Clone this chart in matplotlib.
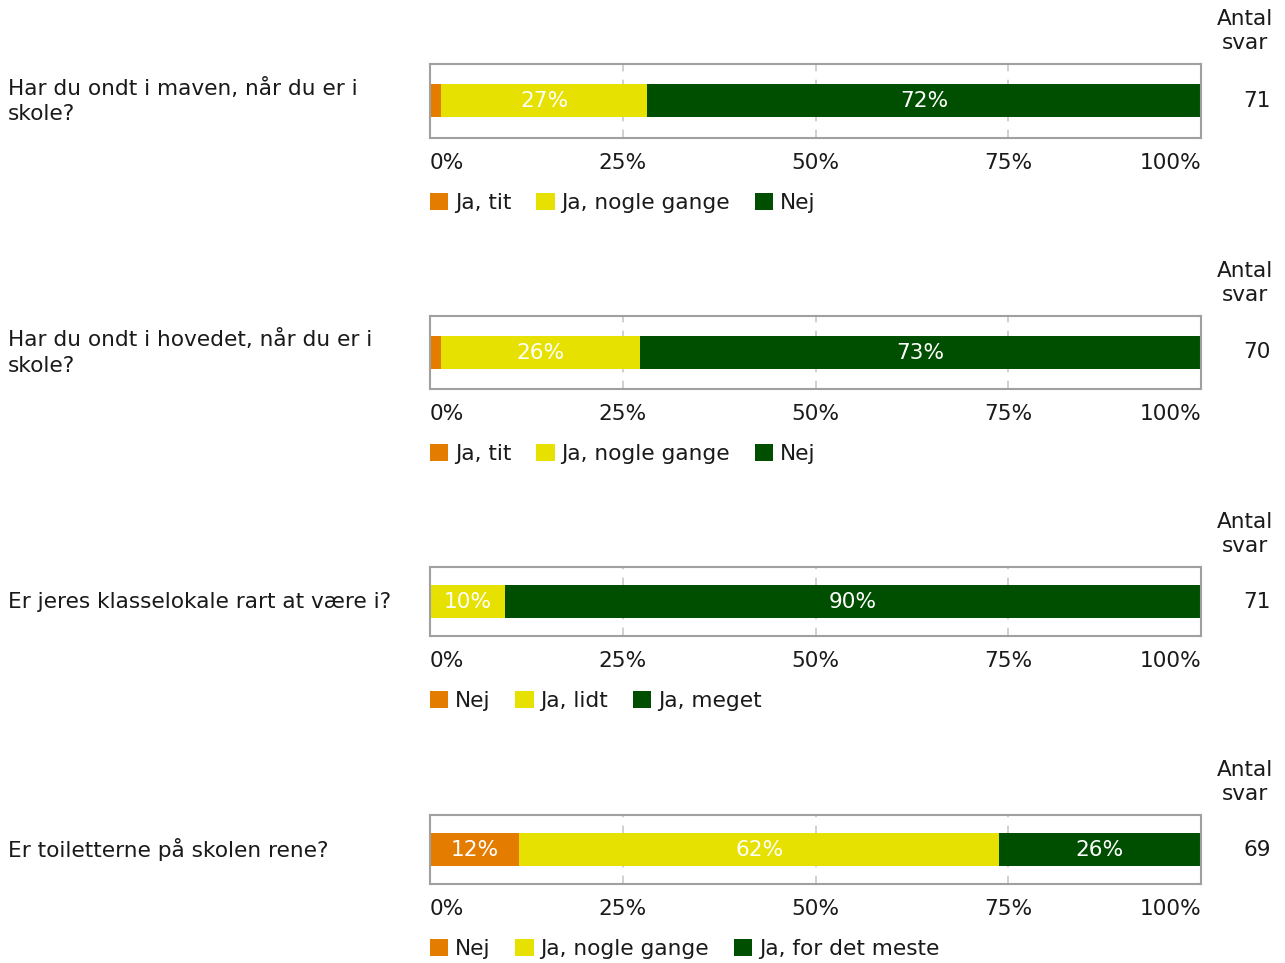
import numpy as np
import matplotlib.pyplot as plt
from matplotlib.patches import Patch

# data
questions = [
    "Har du ondt i maven, når du er i\nskole?",
    "Har du ondt i hovedet, når du er i\nskole?",
    "Er jeres klasselokale rart at være i?",
    "Er toiletterne på skolen rene?",
]
legend_labels = [
    ["Ja, tit", "Ja, nogle gange", "Nej"],
    ["Ja, tit", "Ja, nogle gange", "Nej"],
    ["Nej", "Ja, lidt", "Ja, meget"],
    ["Nej", "Ja, nogle gange", "Ja, for det meste"],
]
share_orange = [1.4, 1.4, 0.0, 11.6]
share_yellow = [26.8, 25.8, 9.7, 62.2]
share_green = [71.8, 72.8, 90.3, 26.2]
counts = [71, 70, 71, 69]
tick_vals = [0, 25, 50, 75, 100]
tick_labels = ["0%", "25%", "50%", "75%", "100%"]

colors = ["#e47c00", "#e6e100", "#004f00"]

W, H = 1285, 963
fig = plt.figure(figsize=(W / 100, H / 100), dpi=100)
plt.rcParams['font.family'] = ['DejaVu Sans']
fs = 15.6
txt = "#1a1a1a"

# panel boxes in pixels (top, bottom)
boxes = [(64, 138), (316, 389), (567, 636), (815, 884)]
x0, x1 = 430, 1201
bar_px = 33

for i, (top, bot) in enumerate(boxes):
    h = bot - top
    ax = fig.add_axes([x0 / W, 1 - bot / H, (x1 - x0) / W, h / H])
    ax.set_xlim(0, 100)
    ax.set_ylim(-h / 2, h / 2)
    segs = [share_orange[i], share_yellow[i], share_green[i]]
    left = 0
    for v, c in zip(segs, colors):
        if v > 0:
            ax.barh(0, v, left=left, height=bar_px, color=c, zorder=2)
            if v >= 5:
                ax.text(left + v / 2, 0, f"{round(v)}%", color="white",
                        ha="center", va="center", fontsize=fs, zorder=3)
        left += v
    for g in [25, 50, 75]:
        ax.axvline(g, color="#c8c8c8", lw=1.2, ls=(0, (5, 5)), zorder=1)
    for s in ax.spines.values():
        s.set_color("#a0a0a0")
        s.set_linewidth(1.5)
    ax.set_yticks([])
    ax.set_xticks(tick_vals)
    ax.set_xticklabels(tick_labels, fontsize=fs, color=txt)
    ax.tick_params(axis="x", length=0, pad=11)
    tl = ax.get_xticklabels()
    tl[0].set_ha("left")
    tl[-1].set_ha("right")

    yc = 1 - (top + bot) / 2 / H
    fig.text(8 / W, yc, questions[i], ha="left", va="center", fontsize=fs,
             color=txt, linespacing=1.35)
    fig.text(1271 / W, yc, str(counts[i]), ha="right", va="center",
             fontsize=fs, color=txt)
    fig.text(1245 / W, 1 - (top - 33) / H, "Antal\nsvar", ha="center",
             va="center", fontsize=fs, color=txt, linespacing=1.3)

    handles = [Patch(facecolor=c, edgecolor="none") for c in colors]
    fig.legend(handles, legend_labels[i], loc="center left",
               bbox_to_anchor=(x0 / W, 1 - (bot + 65) / H), ncol=3,
               frameon=False, fontsize=fs, handlelength=0.85,
               handleheight=0.85, handletextpad=0.3, columnspacing=1.15,
               borderpad=0, borderaxespad=0, labelcolor=txt)

fig.savefig("out.png", dpi=100)
